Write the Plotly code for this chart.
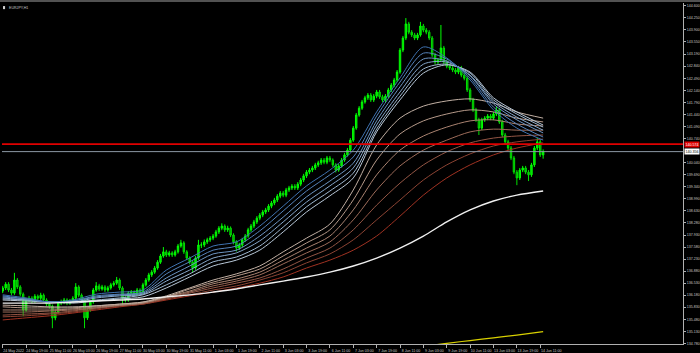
import plotly.graph_objects as go

# ---------------- data (EURJPY, H1 chart, candles drawn as 2-hour bars) ----------------
OPEN0 = 136.30
CLOSES = [
    136.39, 136.50, 136.33, 136.24, 136.62, 136.42, 136.21, 135.75, 136.04, 136.09,
    136.01, 136.15, 136.09, 136.18, 136.04, 135.92, 135.86, 135.52, 135.69, 135.95,
    135.98, 136.04, 135.95, 136.01, 136.09, 136.42, 136.18, 136.04, 135.52, 135.75,
    135.98, 136.33, 136.45, 136.36, 136.42, 136.33, 136.39, 136.48, 136.53, 136.62,
    136.39, 136.09, 136.04, 136.24, 136.27, 136.21, 136.33, 136.27, 136.48, 136.62,
    136.77, 136.85, 136.97, 137.14, 137.32, 137.44, 137.35, 137.41, 137.35, 137.44,
    137.61, 137.70, 137.44, 137.26, 137.14, 136.97, 137.26, 137.64, 137.64, 137.73,
    137.79, 137.84, 137.90, 138.02, 138.13, 138.19, 138.08, 138.13, 137.93, 137.73,
    137.55, 137.64, 137.79, 137.90, 138.08, 138.19, 138.31, 138.42, 138.51, 138.60,
    138.66, 138.77, 138.86, 138.95, 139.06, 139.15, 139.09, 139.24, 139.30, 139.35,
    139.30, 139.41, 139.53, 139.65, 139.76, 139.82, 139.88, 139.97, 140.03, 140.11,
    140.05, 140.17, 140.11, 139.97, 139.82, 139.94, 140.11, 140.26, 140.40, 140.69,
    141.04, 141.42, 141.62, 141.80, 141.92, 142.00, 141.86, 141.97, 142.09, 141.95,
    141.86, 141.97, 142.15, 142.29, 142.44, 142.67, 143.31, 143.66, 144.07, 143.83,
    143.75, 143.66, 143.75, 144.01, 143.89, 143.83, 143.66, 143.17, 142.96, 143.02,
    143.37, 142.96, 142.84, 142.79, 142.73, 142.67, 142.79, 142.58, 142.49, 142.15,
    141.86, 141.57, 141.28, 141.04, 141.28, 141.33, 141.39, 141.33, 141.45, 141.57,
    141.22, 140.84, 140.64, 140.46, 140.17, 139.76, 139.59, 139.82, 139.88, 139.76,
    139.68, 139.97, 140.46, 140.64, 140.26, 140.36,
]
HIGHS = [
    136.45, 136.56, 136.56, 136.39, 136.83, 136.68, 136.47, 136.26, 136.10, 136.16,
    136.15, 136.21, 136.20, 136.25, 136.23, 136.09, 135.98, 135.91, 135.76, 136.01,
    136.05, 136.10, 136.09, 136.07, 136.15, 136.53, 136.47, 136.23, 136.08, 135.81,
    136.04, 136.39, 136.56, 136.51, 136.48, 136.47, 136.45, 136.54, 136.59, 136.71,
    136.67, 136.44, 136.15, 136.30, 136.33, 136.32, 136.39, 136.38, 136.54, 136.68,
    136.83, 136.91, 137.03, 137.20, 137.38, 137.58, 137.50, 137.47, 137.46, 137.50,
    137.67, 137.79, 137.75, 137.49, 137.31, 137.19, 137.32, 137.79, 137.72, 137.80,
    137.85, 137.90, 137.96, 138.08, 138.19, 138.27, 138.24, 138.20, 138.18, 137.98,
    137.78, 137.70, 137.85, 137.96, 138.14, 138.25, 138.37, 138.48, 138.57, 138.66,
    138.72, 138.83, 138.92, 139.01, 139.12, 139.21, 139.21, 139.30, 139.36, 139.41,
    139.41, 139.47, 139.59, 139.71, 139.82, 139.88, 139.94, 140.03, 140.09, 140.17,
    140.17, 140.23, 140.23, 140.16, 140.02, 140.00, 140.17, 140.32, 140.46, 140.75,
    141.10, 141.48, 141.68, 141.86, 141.98, 142.06, 142.06, 142.03, 142.15, 142.15,
    142.01, 142.03, 142.21, 142.35, 142.50, 142.73, 143.37, 143.72, 144.24, 144.13,
    143.89, 143.81, 143.81, 144.13, 144.07, 143.95, 143.89, 143.72, 143.23, 143.08,
    144.04, 143.43, 143.02, 142.90, 142.85, 142.79, 142.85, 142.85, 142.64, 142.55,
    142.21, 141.92, 141.63, 141.34, 141.34, 141.39, 141.45, 141.45, 141.51, 141.68,
    141.63, 141.28, 140.90, 140.70, 140.52, 140.23, 139.82, 139.88, 139.94, 139.94,
    139.82, 140.03, 140.52, 140.75, 140.70, 140.42,
]
LOWS = [
    136.24, 136.33, 136.27, 136.18, 136.19, 136.36, 136.15, 135.57, 135.70, 135.98,
    135.95, 135.96, 136.03, 136.04, 135.98, 135.86, 135.79, 135.22, 135.45, 135.64,
    135.89, 135.92, 135.89, 135.90, 135.96, 136.04, 136.12, 135.98, 135.22, 135.46,
    135.70, 135.93, 136.28, 136.30, 136.31, 136.27, 136.28, 136.34, 136.43, 136.48,
    136.33, 135.89, 135.97, 135.99, 136.18, 136.15, 136.16, 136.21, 136.22, 136.43,
    136.57, 136.71, 136.80, 136.92, 137.09, 137.27, 137.29, 137.30, 137.29, 137.30,
    137.39, 137.56, 137.38, 137.20, 137.08, 136.83, 136.92, 137.21, 137.55, 137.58,
    137.67, 137.73, 137.78, 137.85, 137.96, 138.07, 138.02, 138.02, 137.87, 137.66,
    137.45, 137.49, 137.58, 137.73, 137.85, 138.02, 138.13, 138.25, 138.36, 138.45,
    138.54, 138.60, 138.71, 138.80, 138.89, 139.00, 139.03, 139.03, 139.18, 139.24,
    139.24, 139.24, 139.35, 139.47, 139.59, 139.70, 139.76, 139.82, 139.91, 139.97,
    139.99, 139.99, 140.05, 139.91, 139.75, 139.77, 139.89, 140.06, 140.21, 140.35,
    140.64, 140.99, 141.37, 141.57, 141.75, 141.86, 141.80, 141.80, 141.91, 141.89,
    141.80, 141.80, 141.91, 142.09, 142.23, 142.38, 142.62, 143.25, 143.60, 143.77,
    143.69, 143.60, 143.60, 143.70, 143.83, 143.77, 143.60, 143.10, 142.89, 142.90,
    142.96, 142.90, 142.78, 142.73, 142.67, 142.61, 142.61, 142.52, 142.43, 142.09,
    141.80, 141.51, 141.22, 140.84, 140.98, 141.22, 141.27, 141.27, 141.27, 141.39,
    141.16, 140.78, 140.58, 140.40, 140.11, 139.70, 139.38, 139.53, 139.76, 139.70,
    139.50, 139.62, 139.91, 140.40, 140.20, 140.15,
]
OPENS = [OPEN0] + CLOSES[:-1]
BAR_STEP = 2  # hours per drawn candle
BARS = [BAR_STEP * j for j in range(len(CLOSES))]

# moving averages, read at every 16th hourly bar
MA_BARS = [0, 16, 32, 48, 64, 80, 96, 112, 128, 144, 160, 176, 192, 208, 224, 240,
           256, 272, 288, 304, 320, 336, 352, 370]
MA_BLUE = [
    [136.19, 136.10, 135.98, 136.04, 136.21, 136.27, 136.33, 136.91, 137.26, 137.61, 137.73, 138.19,
     138.77, 139.36, 139.82, 140.40, 141.51, 142.50, 143.40, 143.08, 142.44, 141.57, 141.04, 140.69],
    [136.16, 136.07, 135.98, 136.01, 136.16, 136.21, 136.27, 136.80, 137.15, 137.49, 137.61, 138.05,
     138.63, 139.21, 139.68, 140.20, 141.39, 142.38, 143.22, 143.05, 142.50, 141.65, 141.16, 140.78],
    [136.13, 136.07, 135.98, 136.01, 136.13, 136.19, 136.24, 136.68, 137.03, 137.38, 137.49, 137.90,
     138.45, 139.04, 139.50, 140.02, 141.25, 142.24, 143.05, 142.99, 142.56, 141.74, 141.28, 140.90],
    [136.10, 136.04, 135.98, 135.98, 136.10, 136.16, 136.21, 136.59, 136.91, 137.26, 137.41, 137.76,
     138.31, 138.89, 139.36, 139.88, 141.13, 142.09, 142.90, 142.96, 142.58, 141.80, 141.36, 140.98],
    [136.07, 136.04, 135.98, 135.98, 136.04, 136.10, 136.19, 136.48, 136.80, 137.15, 137.29, 137.61,
     138.16, 138.75, 139.21, 139.73, 141.01, 141.97, 142.76, 142.90, 142.64, 141.86, 141.45, 141.07],
    [136.04, 136.01, 135.98, 135.95, 136.01, 136.07, 136.13, 136.39, 136.71, 137.03, 137.20, 137.49,
     138.02, 138.60, 139.07, 139.59, 140.93, 141.86, 142.64, 142.88, 142.67, 141.92, 141.51, 141.13],
]
MA_RED = [
    [135.89, 135.87, 135.84, 135.84, 135.87, 135.92, 135.98, 136.16, 136.39, 136.62, 136.80, 137.03,
     137.44, 137.84, 138.25, 139.24, 140.55, 141.33, 141.68, 141.83, 141.89, 141.77, 141.51, 141.33],
    [135.84, 135.81, 135.81, 135.81, 135.87, 135.92, 135.98, 136.13, 136.36, 136.56, 136.74, 136.94,
     137.32, 137.70, 138.08, 138.95, 140.11, 140.87, 141.25, 141.45, 141.57, 141.51, 141.33, 141.22],
    [135.75, 135.75, 135.75, 135.78, 135.84, 135.89, 135.95, 136.13, 136.30, 136.51, 136.65, 136.85,
     137.20, 137.55, 137.90, 138.66, 139.68, 140.40, 140.81, 141.07, 141.25, 141.28, 141.16, 141.10],
    [135.69, 135.69, 135.72, 135.75, 135.81, 135.89, 135.95, 136.10, 136.27, 136.45, 136.59, 136.77,
     137.09, 137.41, 137.73, 138.37, 139.24, 139.94, 140.40, 140.69, 140.93, 141.01, 140.98, 140.98],
    [135.60, 135.63, 135.66, 135.72, 135.81, 135.87, 135.95, 136.07, 136.24, 136.39, 136.53, 136.68,
     136.94, 137.26, 137.55, 138.08, 138.80, 139.44, 139.97, 140.35, 140.61, 140.75, 140.81, 140.84],
    [135.55, 135.58, 135.63, 135.69, 135.78, 135.87, 135.92, 136.07, 136.19, 136.33, 136.45, 136.62,
     136.83, 137.12, 137.38, 137.79, 138.37, 138.95, 139.53, 139.97, 140.29, 140.52, 140.64, 140.72],
    [135.46, 135.52, 135.58, 135.66, 135.75, 135.84, 135.92, 136.04, 136.16, 136.27, 136.39, 136.53,
     136.71, 136.97, 137.20, 137.49, 137.90, 138.48, 139.09, 139.59, 139.97, 140.26, 140.46, 140.61],
]
MA_WHITE = [135.95, 135.95, 135.95, 135.98, 136.01, 136.04, 136.07, 136.13, 136.19, 136.27, 136.36, 136.48,
            136.59, 136.71, 136.85, 137.03, 137.26, 137.55, 137.90, 138.31, 138.66, 138.92, 139.09, 139.21]
YELLOW_BARS = [272, 288, 304, 320, 336, 352, 370]
MA_YELLOW = [134.61, 134.69, 134.78, 134.86, 134.94, 135.02, 135.12]

LEVEL_RED = 140.574
BID = 140.356

X_TICK_BARS = [0, 16, 32, 48, 64, 80, 96, 112, 128, 144, 160, 176, 192, 208, 224, 240,
               256, 272, 288, 304, 320, 336, 352, 368]
X_TICK_TEXT = ["24 May 2022", "24 May 19:00", "25 May 11:00", "26 May 03:00", "26 May 19:00",
               "27 May 11:00", "30 May 03:00", "30 May 19:00", "31 May 11:00", "1 Jun 03:00",
               "1 Jun 19:00", "2 Jun 11:00", "3 Jun 03:00", "3 Jun 19:00", "6 Jun 11:00",
               "7 Jun 03:00", "7 Jun 19:00", "8 Jun 11:00", "9 Jun 03:00", "9 Jun 19:00",
               "10 Jun 11:00", "13 Jun 03:00", "13 Jun 19:00", "14 Jun 11:00"]
Y_TICKS = [144.600, 144.250, 143.900, 143.550, 143.190, 142.840, 142.490, 142.140, 141.790,
           141.440, 141.090, 140.740, 140.040, 139.690, 139.340, 138.990, 138.630, 138.280,
           137.930, 137.580, 137.230, 136.880, 136.530, 136.180, 135.830, 135.480, 135.130, 134.780]

# ---------------- styling ----------------
BLUE_COLORS = ["#3f72b0", "#5683bb", "#6d95c3", "#86a7cb", "#9fb8d1", "#b8c8d8"]
RED_COLORS = ["#c2b0a4", "#b69a8a", "#aa8371", "#9e6c5a", "#945645", "#8c4333", "#a03222"]
AXIS_COL = "#b0b0b0"
TXT_COL = "#c8c8c8"
FONT = "Liberation Sans"
FS = 3.6

fig = go.Figure()

for vals, col in zip(reversed(MA_RED), reversed(RED_COLORS)):
    fig.add_trace(go.Scatter(x=MA_BARS, y=vals, mode="lines",
                             line=dict(color=col, width=1, shape="spline", smoothing=0.8),
                             hoverinfo="skip", showlegend=False))
for vals, col in zip(reversed(MA_BLUE), reversed(BLUE_COLORS)):
    fig.add_trace(go.Scatter(x=MA_BARS, y=vals, mode="lines",
                             line=dict(color=col, width=1, shape="spline", smoothing=0.8),
                             hoverinfo="skip", showlegend=False))
fig.add_trace(go.Scatter(x=MA_BARS, y=MA_WHITE, mode="lines",
                         line=dict(color="#f0f0f0", width=1.4, shape="spline", smoothing=0.8),
                         hoverinfo="skip", showlegend=False))
fig.add_trace(go.Scatter(x=YELLOW_BARS, y=MA_YELLOW, mode="lines",
                         line=dict(color="#d8d000", width=1.2, shape="spline"),
                         hoverinfo="skip", showlegend=False))

fig.add_trace(go.Candlestick(
    x=BARS, open=OPENS, high=HIGHS, low=LOWS, close=CLOSES,
    increasing=dict(line=dict(color="#00ff00", width=1), fillcolor="#00d000"),
    decreasing=dict(line=dict(color="#00e000", width=1), fillcolor="#008a00"),
    whiskerwidth=0, showlegend=False, hoverinfo="skip"))

fig.add_shape(type="line", xref="paper", x0=0, x1=1, yref="y", y0=BID, y1=BID,
              line=dict(color="#8c98a4", width=1))
fig.add_shape(type="line", xref="paper", x0=0, x1=1, yref="y", y0=LEVEL_RED, y1=LEVEL_RED,
              line=dict(color="#e00000", width=1.6))
# thin window border along the top edge
fig.add_shape(type="line", xref="paper", x0=-0.01, x1=1.03, yref="paper", y0=1.0055, y1=1.0055,
              line=dict(color="#6e6e6e", width=1.5))

fig.add_annotation(xref="paper", x=1, xanchor="left", xshift=1, yref="y", y=LEVEL_RED,
                   text=f"{LEVEL_RED:.3f}", showarrow=False, bgcolor="#e00000",
                   font=dict(family=FONT, size=FS, color="#ffffff"), borderpad=0.5)
fig.add_annotation(xref="paper", x=1, xanchor="left", xshift=1, yref="y", y=BID,
                   text=f"{BID:.3f}", showarrow=False, bgcolor="#ffffff",
                   font=dict(family=FONT, size=FS, color="#000000"), borderpad=0.5)
fig.add_annotation(xref="paper", x=0, xanchor="left", xshift=5, yref="paper", y=1,
                   yanchor="top", yshift=-1, text="EURJPY,H1", showarrow=False,
                   font=dict(family=FONT, size=FS, color=TXT_COL))
fig.add_shape(type="rect", xref="paper", yref="paper", x0=0.0015, x1=0.0045, y0=0.982, y1=0.991,
              line=dict(width=0), fillcolor="#d0d0d0")

fig.update_layout(
    width=700, height=353,
    margin=dict(l=2, r=17, t=3, b=9, autoexpand=False),
    paper_bgcolor="#000000", plot_bgcolor="#000000",
    showlegend=False,
    xaxis=dict(range=[-0.5, 465.75], showgrid=False, zeroline=False,
               showline=True, linecolor=AXIS_COL, linewidth=1,
               ticks="outside", ticklen=3, tickcolor=AXIS_COL, tickwidth=1,
               tickvals=X_TICK_BARS, ticktext=X_TICK_TEXT, ticklabelshift=11,
               tickangle=0, automargin=False,
               tickfont=dict(family=FONT, size=FS, color=TXT_COL),
               rangeslider=dict(visible=False), fixedrange=True),
    yaxis=dict(range=[134.76, 144.679], side="right", showgrid=False, zeroline=False,
               showline=True, linecolor=AXIS_COL, linewidth=1,
               ticks="outside", ticklen=2, tickcolor=AXIS_COL, tickwidth=1,
               tickvals=Y_TICKS, ticktext=[f"{v:.3f}" for v in Y_TICKS], automargin=False,
               tickfont=dict(family=FONT, size=FS, color=TXT_COL), fixedrange=True),
)

fig.write_html("out.html")
